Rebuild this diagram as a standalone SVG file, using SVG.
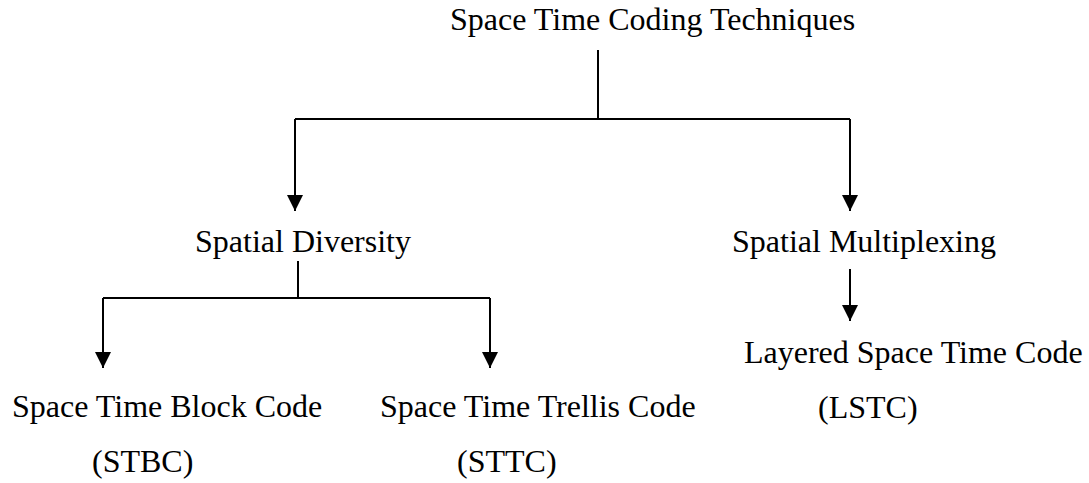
<svg xmlns="http://www.w3.org/2000/svg" width="1089" height="483" viewBox="0 0 1089 483">
<style>
text{font-family:"Liberation Serif","Times New Roman",serif;font-size:32px;fill:#000}
.c{stroke:#000;stroke-width:2;fill:none}
</style>
<defs>
<marker id="ah" markerWidth="16" markerHeight="16" viewBox="0 0 16 16" refX="16" refY="8" orient="auto" markerUnits="userSpaceOnUse">
<path d="M0,0L16,8L0,16Z" fill="#000"/>
</marker>
</defs>
<rect width="1089" height="483" fill="#fff"/>
<g id="connectors">
<path class="c" d="M598,50V119"/>
<path class="c" d="M295,119H850"/>
<path class="c" d="M295,119V211" marker-end="url(#ah)"/>
<path class="c" d="M850,119V211" marker-end="url(#ah)"/>
<path class="c" d="M298,261V298"/>
<path class="c" d="M103,298H490"/>
<path class="c" d="M103,298V368" marker-end="url(#ah)"/>
<path class="c" d="M490,298V368" marker-end="url(#ah)"/>
<path class="c" d="M850,269V321" marker-end="url(#ah)"/>
</g>
<g id="root"><text x="450" y="30">Space Time Coding Techniques</text></g>
<g id="diversity"><text x="195" y="252">Spatial Diversity</text></g>
<g id="multiplexing"><text x="732" y="252">Spatial Multiplexing</text></g>
<g id="stbc"><text x="12" y="417">Space Time Block Code</text><text x="92" y="472">(STBC)</text></g>
<g id="sttc"><text x="380" y="417">Space Time Trellis Code</text><text x="457" y="472">(STTC)</text></g>
<g id="lstc"><text x="744" y="363">Layered Space Time Code</text><text x="818" y="418">(LSTC)</text></g>
</svg>
